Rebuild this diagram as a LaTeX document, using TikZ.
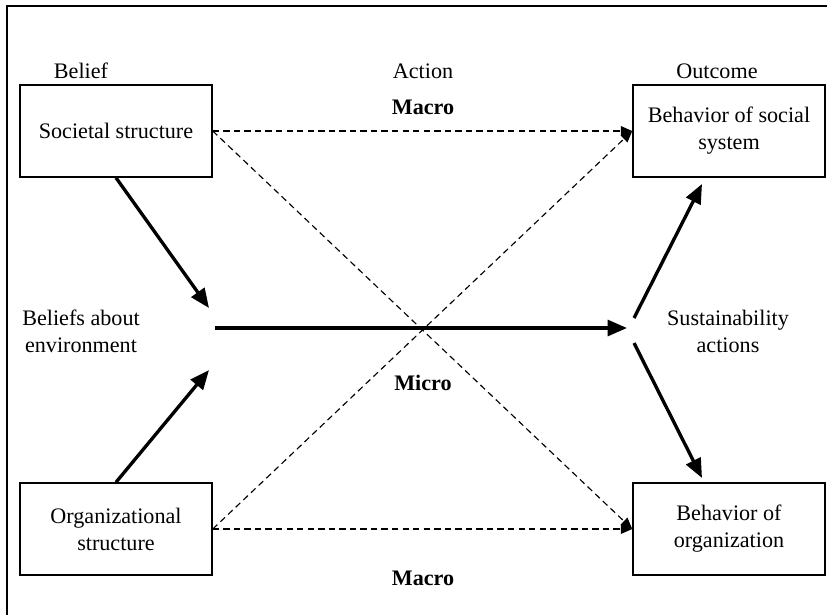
\documentclass[tikz,border=0pt]{standalone}
\usepackage{fontspec}
\setmainfont{Liberation Serif}
\usetikzlibrary{arrows.meta}

\tikzset{
  box/.style={draw, line width=0.85pt, minimum width=3.84cm, minimum height=1.84cm, align=center, inner sep=0pt},
  bigarrow/.style={line width=1.9pt, -{Triangle[length=11pt,width=9pt]}},
  dasharrow/.style={line width=0.65pt, dash pattern=on 3.6pt off 2.4pt, -{Triangle[length=6.5pt,width=5.5pt]}},
  lbl/.style={align=center}
}

\begin{document}
\begin{tikzpicture}[x=0.2mm, y=-0.2mm, font=\fontsize{12.6}{15.4}\selectfont]
  \useasboundingbox (0,0) rectangle (827,614);
  \draw[line width=0.85pt] (7,640) -- (7,6) -- (850,6);

  % column heads
  \node[lbl] (belief) at (81,71) {Belief};
  \node[lbl] (action) at (423,71) {Action};
  \node[lbl] (outcome) at (717,71) {Outcome};
  \node[lbl] (macrotop) at (423,107) {\textbf{Macro}};
  \node[lbl] (micro) at (423,383) {\textbf{Micro}};
  \node[lbl] (macrobot) at (423,578) {\textbf{Macro}};

  % boxes
  \node[box] (societal) at (116,131) {Societal structure};
  \node[box] (social) at (729,131) {Behavior of social\\system};
  \node[box] (orgstruct) at (116,529) {Organizational\\structure};
  \node[box] (orgbehav) at (729,529) {Behavior of\\organization};

  % middle labels
  \node[lbl] (beliefs) at (81,331) {Beliefs about\\environment};
  \node[lbl] (actions) at (728,331) {Sustainability\\actions};

  \coordinate (bin1) at (209,308);
  \coordinate (bin2) at (209,370);
  \coordinate (bout) at (215,328);
  \coordinate (ain) at (627,328);
  \coordinate (aout1) at (634,318);
  \coordinate (aout2) at (634,343);
  \coordinate (sin) at (702,184);
  \coordinate (oin) at (702,478);

  % macro links
  \draw[dasharrow] (societal.east) -- (social.west);
  \draw[dasharrow] (societal.east) -- (orgbehav.west);
  \draw[dasharrow] (orgstruct.east) -- (social.west);
  \draw[dasharrow] (orgstruct.east) -- (orgbehav.west);

  % micro path
  \draw[bigarrow] (societal.south) -- (bin1);
  \draw[bigarrow] (orgstruct.north) -- (bin2);
  \draw[bigarrow] (bout) -- (ain);
  \draw[bigarrow] (aout1) -- (sin);
  \draw[bigarrow] (aout2) -- (oin);
\end{tikzpicture}
\end{document}
